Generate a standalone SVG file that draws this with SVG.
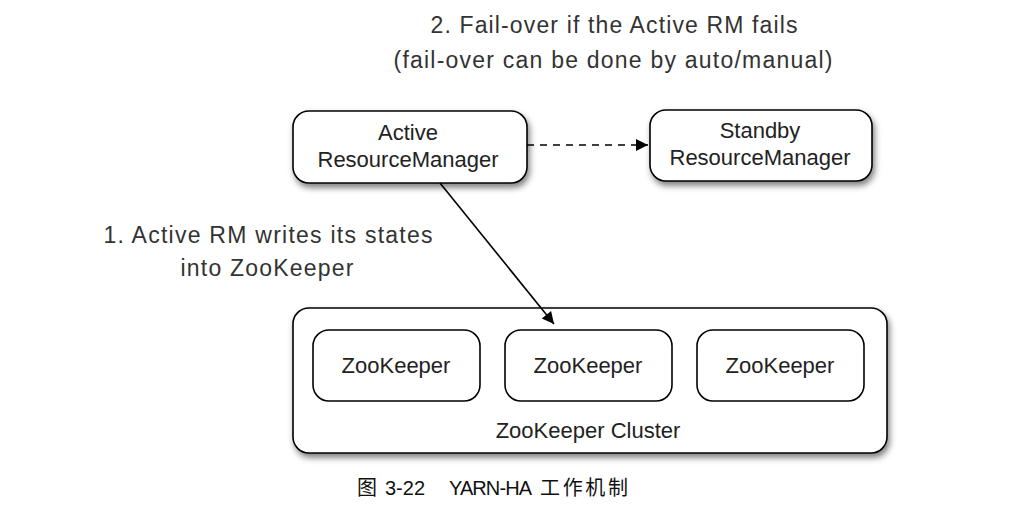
<svg xmlns="http://www.w3.org/2000/svg" width="1013" height="507" viewBox="0 0 1013 507">
<style>
.box{fill:#fff;stroke:#000;stroke-width:1.6}
.sh{filter:url(#ds)}
.t{font-family:"Liberation Sans",Arial,sans-serif;font-size:22px;fill:#222;text-anchor:middle}
.lbl{font-family:"Liberation Sans",Arial,sans-serif;font-size:23px;fill:#333;text-anchor:middle}
.cap{font-family:"Liberation Sans","Noto Sans CJK SC",sans-serif;font-size:20px;fill:#111}
</style>
<defs>
<filter id="ds" x="-10%" y="-20%" width="130%" height="150%">
<feDropShadow dx="2" dy="4" stdDeviation="3" flood-color="#000" flood-opacity="0.5"/>
</filter>
<marker id="ah2" viewBox="0 0 10 10" refX="10" refY="5" markerWidth="14" markerHeight="12" markerUnits="userSpaceOnUse" orient="auto">
<path d="M0,0 L10,5 L0,10 z" fill="#000"/>
</marker>
</defs>
<g id="cluster">
<rect class="box sh" x="293" y="308" width="594" height="145" rx="16"/>
<text class="t" x="588" y="438">ZooKeeper Cluster</text>
</g>
<g id="zk1">
<rect class="box" x="313" y="330" width="167" height="71" rx="16"/>
<text class="t" x="396" y="373">ZooKeeper</text>
</g>
<g id="zk2">
<rect class="box" x="505" y="330" width="167" height="71" rx="16"/>
<text class="t" x="588" y="373">ZooKeeper</text>
</g>
<g id="zk3">
<rect class="box" x="697" y="330" width="167" height="71" rx="16"/>
<text class="t" x="780" y="373">ZooKeeper</text>
</g>
<g id="active">
<rect class="box sh" x="293" y="111" width="234" height="72" rx="16"/>
<text class="t" x="408" y="140">Active</text>
<text class="t" x="408" y="167">ResourceManager</text>
</g>
<g id="standby">
<rect class="box sh" x="650" y="110" width="222" height="71" rx="16"/>
<text class="t" x="760" y="138">Standby</text>
<text class="t" x="760" y="165">ResourceManager</text>
</g>
<g id="connectors">
<line x1="527" y1="145" x2="648" y2="145" stroke="#000" stroke-width="1.5" stroke-dasharray="7,6" marker-end="url(#ah2)"/>
<line x1="440" y1="183" x2="554" y2="324" stroke="#000" stroke-width="1.6" marker-end="url(#ah2)"/>
</g>
<g id="labels">
<text class="lbl" x="614" y="33" textLength="367" lengthAdjust="spacing">2. Fail-over if the Active RM fails</text>
<text class="lbl" x="613" y="68" textLength="439" lengthAdjust="spacing">(fail-over can be done by auto/manual)</text>
<text class="lbl" x="268" y="243" textLength="329" lengthAdjust="spacing">1. Active RM writes its states</text>
<text class="lbl" x="267" y="276" textLength="173" lengthAdjust="spacing">into ZooKeeper</text>
</g>
<g id="caption">
<text class="cap" x="357" y="495">图</text>
<text class="cap" x="385" y="495">3-22</text>
<text class="cap" x="449" y="495" textLength="83" lengthAdjust="spacing">YARN-HA</text>
<text class="cap" x="540" y="495" textLength="88" lengthAdjust="spacing">工作机制</text>
</g>
</svg>
